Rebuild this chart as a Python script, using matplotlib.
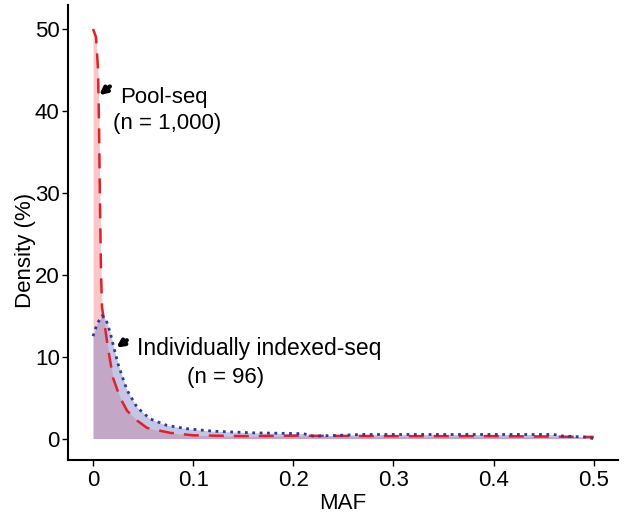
import matplotlib
matplotlib.use("Agg")
import matplotlib.pyplot as plt

plt.rcParams['font.family'] = ['Liberation Sans', 'DejaVu Sans']

# Pool-seq (n = 1,000) density curve
pool_maf = [0, 0.003, 0.005, 0.006, 0.007, 0.008, 0.009, 0.011, 0.015, 0.02,
            0.027, 0.034, 0.044, 0.054, 0.077, 0.1, 0.15, 0.2, 0.3, 0.4, 0.5]
pool_dens = [50, 49, 45, 38, 28, 20, 16, 14.4, 11, 7.4,
             5, 3.4, 2.2, 1.3, 0.7, 0.4, 0.3, 0.35, 0.3, 0.3, 0.2]

# Individually indexed-seq (n = 96) density curve
ind_maf = [0, 0.004, 0.009, 0.013, 0.017, 0.021, 0.025, 0.03, 0.034, 0.044,
           0.057, 0.074, 0.094, 0.12, 0.16, 0.21, 0.22, 0.27, 0.46, 0.47,
           0.49, 0.5]
ind_dens = [12.5, 14, 15, 14.5, 13, 11, 9.1, 7.3, 5.9, 3.8,
            2.4, 1.6, 1.2, 0.9, 0.7, 0.6, 0.3, 0.5, 0.5, 0.3,
            0.2, 0]

x_ticks = [0, 0.1, 0.2, 0.3, 0.4, 0.5]
x_labels = ['0', '0.1', '0.2', '0.3', '0.4', '0.5']
y_ticks = [0, 10, 20, 30, 40, 50]

fig = plt.figure(figsize=(6.24, 5.22), dpi=100)
ax = fig.add_axes([0.109, 0.119, 0.881, 0.871])

ax.fill_between(pool_maf, pool_dens, color='#f06060', alpha=0.35, lw=0)
ax.fill_between(ind_maf, ind_dens, color='#8080c8', alpha=0.45, lw=0)
ax.plot(pool_maf, pool_dens, color='#e0202a', lw=1.8, dashes=(6, 4))
ax.plot(ind_maf, ind_dens, color='#2a3a9a', lw=2, linestyle=':')

ax.set_xlim(-0.025, 0.524)
ax.set_ylim(-2.6, 52.9)
ax.set_xticks(x_ticks)
ax.set_xticklabels(x_labels)
ax.set_yticks(y_ticks)
ax.tick_params(labelsize=16, length=4, width=1, colors='black')
ax.tick_params(axis='y', pad=2)
for side in ['top', 'right']:
    ax.spines[side].set_visible(False)
for side in ['left', 'bottom']:
    ax.spines[side].set_linewidth(1.5)

ax.set_xlabel('MAF', fontsize=16, labelpad=1)
ax.set_ylabel('Density (%)', fontsize=16)
ax.yaxis.set_label_coords(-0.058, 0.46)

arrow = dict(arrowstyle='-|>', lw=3, color='black', mutation_scale=10)
ax.annotate('', xy=(0.004, 41.7), xytext=(0.019, 43.2), arrowprops=arrow)
ax.text(0.027, 41.6, 'Pool-seq', fontsize=16, va='center', ha='left')
ax.text(0.02, 38.5, '(n = 1,000)', fontsize=16, va='center', ha='left')

ax.annotate('', xy=(0.021, 10.9), xytext=(0.036, 12.2), arrowprops=arrow)
ax.text(0.044, 11.0, 'Individually indexed-seq', fontsize=16.5, va='center', ha='left')
ax.text(0.094, 7.4, '(n = 96)', fontsize=16, va='center', ha='left')

fig.savefig('out.png', dpi=100)
